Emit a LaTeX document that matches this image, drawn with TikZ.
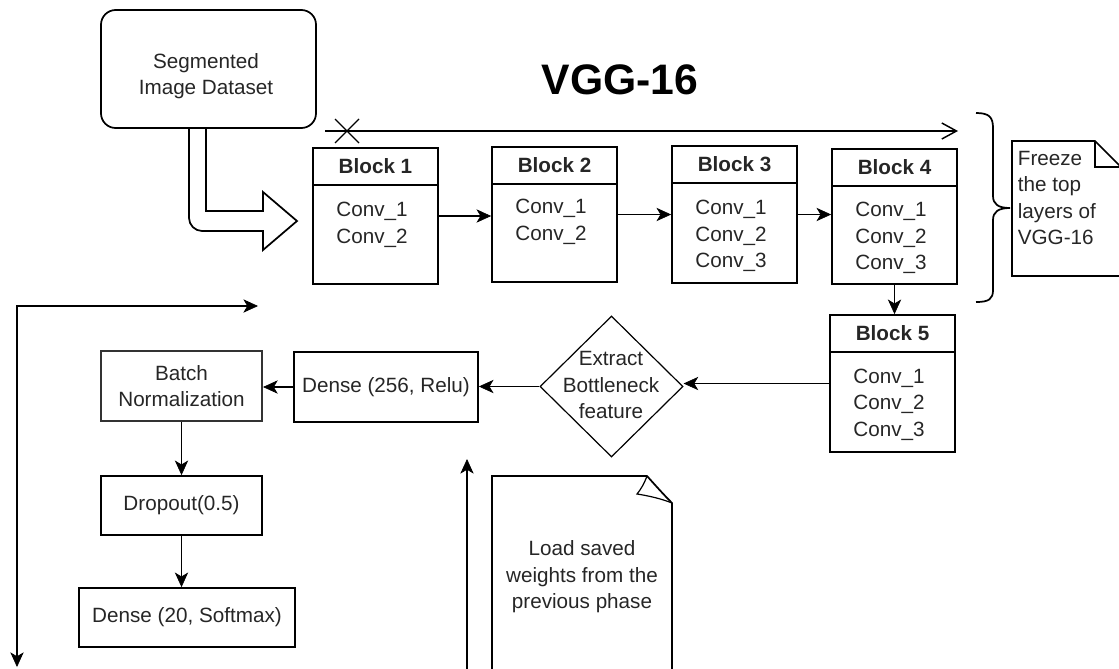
\documentclass[tikz,border=0pt]{standalone}
\usepackage{fontspec}
\setmainfont{Liberation Sans}
\usetikzlibrary{arrows.meta,shapes.geometric}
\begin{document}
\begin{tikzpicture}[x=0.75pt,y=-0.75pt,line width=1.3pt,
  every node/.style={font=\fontsize{15.5}{19.9}\selectfont,text=black!85,inner sep=0pt,align=center},
  bx/.style 2 args={draw,minimum width=#1*0.75pt,minimum height=#2*0.75pt},
  hdr/.style={bx={125}{37},anchor=north,font=\fontsize{15.5}{19.9}\selectfont\bfseries},
  tip/.tip={Stealth[length=11pt,width=10pt,inset=3pt,line width=0.5pt]},
  arr/.style={-tip},
  openarr/.style={-{Straight Barb[length=11pt,width=12pt,line width=1.1pt]}}]
\useasboundingbox (0,0) rectangle (1119,668);
\clip (0,0) rectangle (1119,668);

% input data and title
\node[bx={215}{118},rounded corners=11pt] (seg) at (208.5,69) {};
\node (segt) at (206,76) {Segmented\\Image Dataset};
\node[font=\fontsize{32}{38}\selectfont\bfseries,text=black] (title) at (620,80) {VGG-16};

% hollow bent arrow feeding the first block
\draw (189,128) -- (189,218) .. controls (189,225) and (195,231) .. (202,231)
  -- (263,231) -- (263,250) -- (297,221) -- (263,192) -- (263,211) -- (206,211) -- (206,128);

% convolution blocks
\node[bx={125}{136}] (b1) at (375.5,216) {};
\node[hdr] (b1h) at (b1.north) {Block 1};
\node (b1t) at (372,225) {Conv\_1\\Conv\_2};

\node[bx={125}{135}] (b2) at (554.5,214.5) {};
\node[hdr] (b2h) at (b2.north) {Block 2};
\node (b2t) at (551,222) {Conv\_1\\Conv\_2};

\node[bx={125}{137}] (b3) at (734.5,214.5) {};
\node[hdr] (b3h) at (b3.north) {Block 3};
\node (b3t) at (731,236) {Conv\_1\\Conv\_2\\Conv\_3};

\node[bx={125}{135}] (b4) at (894.5,216.5) {};
\node[hdr] (b4h) at (b4.north) {Block 4};
\node (b4t) at (891,238) {Conv\_1\\Conv\_2\\Conv\_3};

\node[bx={125}{137}] (b5) at (892.5,383.5) {};
\node[hdr] (b5h) at (b5.north) {Block 5};
\node (b5t) at (889,404.5) {Conv\_1\\Conv\_2\\Conv\_3};

% classifier head
\node[draw,diamond,minimum width=143*0.75pt,minimum height=141*0.75pt,line width=0.9pt] (dia) at (611.5,386.5) {};
\node (diat) at (611,385) {Extract\\Bottleneck\\feature};
\node[bx={184}{70}] (d256) at (386,387) {Dense (256, Relu)};
\node[bx={161}{70},line width=1.6pt,draw=black!80] (bn) at (181.5,386) {Batch\\Normalization};
\node[bx={161}{59}] (drop) at (181.5,505.5) {Dropout(0.5)};
\node[bx={216}{59}] (d20) at (187,617.5) {Dense (20, Softmax)};

% connectors
\draw[arr] (b1.east) -- (b1.east -| b2.west);
\draw[arr] (b2.east) -- (b2.east -| b3.west);
\draw[arr] (b3.east) -- (b3.east -| b4.west);
\draw[arr] (b4.south) -- (b4.south |- b5.north);
\draw[arr] (b5.west) -- (b5.west -| dia.east);
\draw[arr] (dia.west) -- (dia.west -| d256.east);
\draw[arr] (d256.west) -- (d256.west -| bn.east);
\draw[arr] (bn.south) -- (bn.south |- drop.north);
\draw[arr] (drop.south) -- (drop.south |- d20.north);

% frozen span above the blocks
\coordinate (topS) at (325,131);
\coordinate (topE) at (958,131);
\coordinate (xm) at (347,131);
\draw[openarr] (topS) -- (topE);
\draw[line width=0.9pt] ([shift={(-12,-12)}]xm) -- ([shift={(12,12)}]xm)
  ([shift={(-12,12)}]xm) -- ([shift={(12,-12)}]xm);

% brace and note
\draw (976,113) .. controls (989,113) and (993,117) .. (993,128) -- (993,196)
  .. controls (993,204) and (998,208) .. (1010,208)
  .. controls (998,208) and (993,212) .. (993,220) -- (993,290)
  .. controls (993,299) and (989,302) .. (976,302);
\draw (1012,141) -- (1095,141) -- (1121,167) -- (1121,276) -- (1012,276) -- cycle;
\draw (1095,141) -- (1095,167) -- (1121,167);
\node[anchor=west,align=left] (frt) at (1017,198) {Freeze\\the top\\layers of\\VGG-16};

% loop arrows
\coordinate (lTop) at (258,306);
\coordinate (lBot) at (17,667);
\draw[tip-tip] (lBot) |- (lTop);
\coordinate (upS) at (467,672);
\coordinate (upE) at (467,459);
\draw[arr] (upS) -- (upE);

% note with curled corner
\draw (492,700) -- (492,476) -- (647,476) .. controls (656,486) and (664,495) .. (672,503) -- (672,700);
\draw[line width=0.9pt] (647,476) .. controls (644,484) and (641,489) .. (637,494)
  .. controls (650,496) and (662,499) .. (672,503);
\node (lnt) at (582,577) {Load saved\\weights from the\\previous phase};
\end{tikzpicture}
\end{document}
